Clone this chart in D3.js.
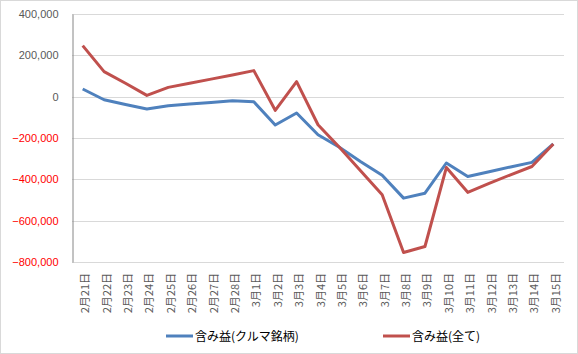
<!DOCTYPE html>
<html>
<head>
<meta charset="utf-8">
<script src="https://cdn.jsdelivr.net/npm/d3@7"></script>
<style type="text/css">
  body{
    margin: 0px;
    background: white;
  }
  .tick text{
    font-family: 'Liberation Sans', Arial, sans-serif;
  }
  .legendText{
    font-family: 'Noto Sans CJK JP', sans-serif;
    font-size: 12px;
    fill: #000;
  }
</style>
</head>
<body>

<script>

var dates = ["2月21日","2月22日","2月23日","2月24日","2月25日","2月26日","2月27日","2月28日",
  "3月1日","3月2日","3月3日","3月4日","3月5日","3月6日","3月7日","3月8日","3月9日",
  "3月10日","3月11日","3月12日","3月13日","3月14日","3月15日"];

var kuruma = [37000,-15000,-38000,-60000,-44000,-35000,-28000,-20000,
  -25000,-137000,-79000,-184000,-245000,-315000,-380000,-491000,-467000,
  -321000,-386000,-363000,-340000,-318000,-229000];

var all = [247000,121000,65000,6000,45000,65000,85000,105000,
  126000,-66000,73000,-136000,-245000,-360000,-475000,-754000,-725000,
  -343000,-463000,-420000,-378000,-338000,-229000];

var yTicks = [400000,200000,0,-200000,-400000,-600000,-800000];

var seriesNames = ["含み益(クルマ銘柄)", "含み益(全て)"];
var seriesColors = ["#4F81BD", "#C0504D"];

var W = 578, H = 354;
var margin = {top: 14, right: 14, bottom: 92, left: 72};

var svg = d3.select("body").append("svg")
    .attr("width", W)
    .attr("height", H);

// outer chart border
svg.append("rect")
    .attr("x", 0.5).attr("y", 0.5)
    .attr("width", W - 1).attr("height", H - 1)
    .attr("fill", "white")
    .attr("stroke", "#d9d9d9");

var xScale = d3.scaleBand()
    .domain(dates)
    .range([margin.left, W - margin.right]);

var yScale = d3.scaleLinear()
    .domain([-800000, 400000])
    .range([H - margin.bottom, margin.top]);

// gridlines
svg.append("g")
  .selectAll("line")
  .data(yTicks)
  .enter().append("line")
    .attr("x1", margin.left)
    .attr("x2", W - margin.right)
    .attr("y1", function(d) { return Math.round(yScale(d)) + 0.5; })
    .attr("y2", function(d) { return Math.round(yScale(d)) + 0.5; })
    .attr("stroke", "#d9d9d9")
    .attr("stroke-width", 1);

// y axis
var yAxis = svg.append("g")
    .attr("transform", "translate(" + (margin.left + 0.5) + ",0)")
    .call(d3.axisLeft(yScale).tickValues(yTicks).tickSize(0).tickPadding(14)
      .tickFormat(d3.format(",")));

yAxis.select(".domain").attr("stroke", "#868686");
yAxis.selectAll(".tick text")
    .attr("font-size", "11px")
    .attr("fill", function(d) { return d < 0 ? "#FF0000" : "#595959"; });

// x labels, rotated
svg.append("g")
  .selectAll("text")
  .data(dates)
  .enter().append("text")
    .attr("transform", function(d) {
      return "translate(" + (xScale(d) + xScale.bandwidth() / 2 + 6.5) + "," + (H - margin.bottom + 11) + ") rotate(-90)";
    })
    .attr("text-anchor", "end")
    .attr("font-family", "'Noto Sans CJK JP', sans-serif")
    .attr("font-size", "11px")
    .attr("fill", "#595959")
    .text(function(d) { return d; });

var line = d3.line()
    .x(function(d, i) { return xScale(dates[i]) + xScale.bandwidth() / 2; })
    .y(function(d) { return yScale(d); });

[kuruma, all].forEach(function(s, k) {
  svg.append("path")
      .datum(s)
      .attr("fill", "none")
      .attr("stroke", seriesColors[k])
      .attr("stroke-width", 3)
      .attr("stroke-linejoin", "round")
      .attr("d", line);
});

// legend
var legendX = [166, 383];
seriesNames.forEach(function(n, k) {
  var g = svg.append("g").attr("transform", "translate(" + legendX[k] + ",336)");
  g.append("line")
      .attr("x1", 0).attr("x2", 27)
      .attr("y1", 0).attr("y2", 0)
      .attr("stroke", seriesColors[k])
      .attr("stroke-width", 3);
  g.append("text")
      .attr("class", "legendText")
      .attr("x", 29)
      .attr("y", 4.5)
      .text(n);
});

</script>

</body>
</html>
